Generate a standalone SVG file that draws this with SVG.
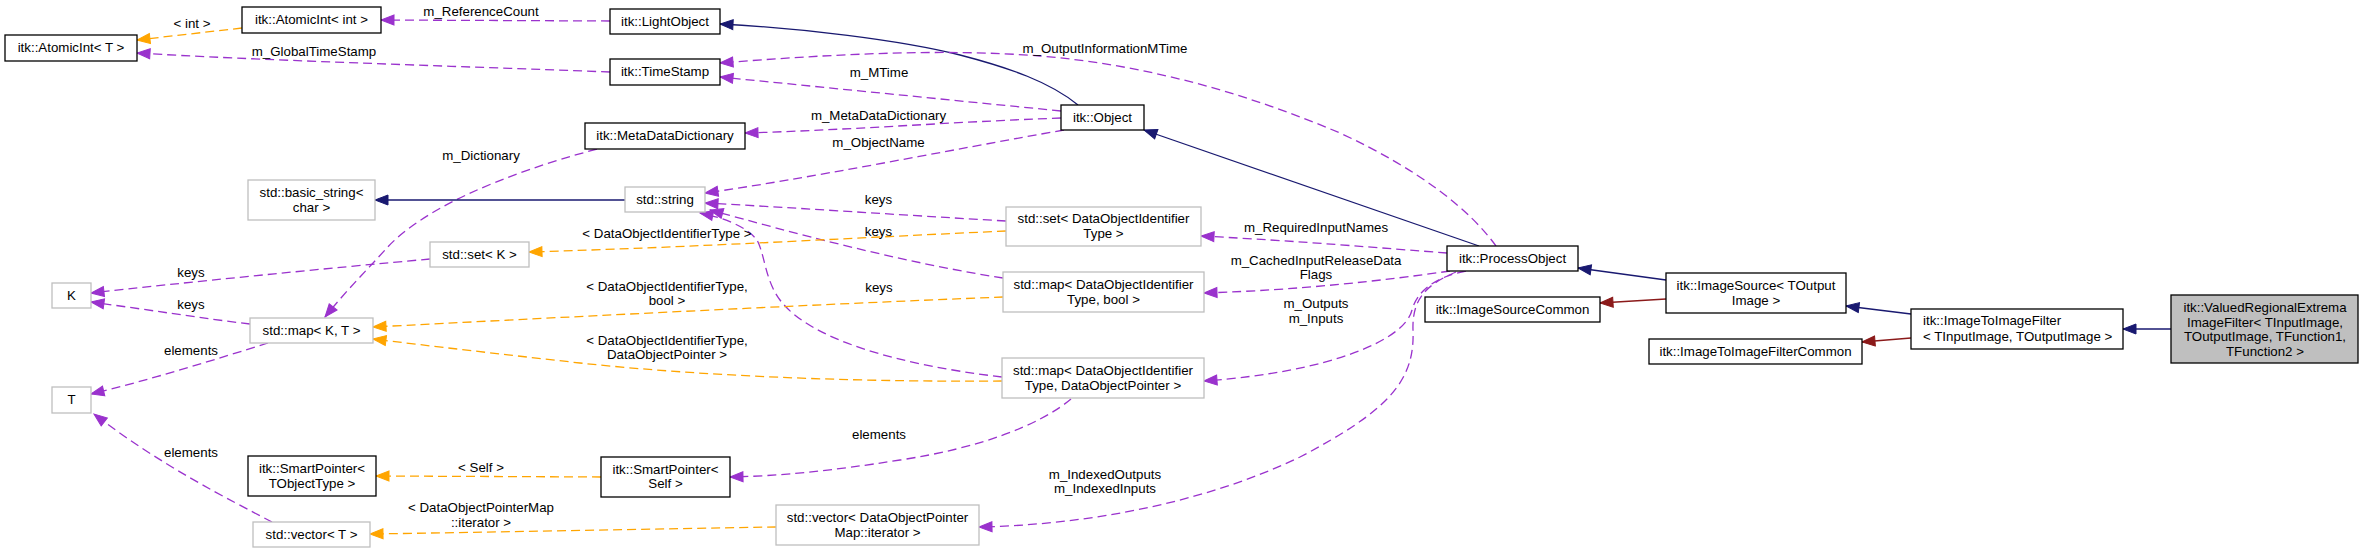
<svg xmlns="http://www.w3.org/2000/svg" width="2364" height="553" viewBox="0 0 2364 553">
<style>
text{font-family:"Liberation Sans",Arial,sans-serif;font-size:13.3px;fill:#000}
.c{text-anchor:middle}
.nb{fill:#fff;stroke:#000;stroke-width:1.3}
.ng{fill:#fff;stroke:#bfbfbf;stroke-width:1.3}
.ns{fill:#bfbfbf;stroke:#000;stroke-width:1.3}
.e{fill:none;stroke-width:1.3}
.p{stroke:#9a32cd;stroke-dasharray:9,5;marker-end:url(#mp)}
.o{stroke:#ffa500;stroke-dasharray:9,5;marker-end:url(#mo)}
.b{stroke:#191970;marker-end:url(#mb)}
.r{stroke:#8b1a1a;marker-end:url(#mr)}
</style>
<defs>
<marker id="mp" markerUnits="userSpaceOnUse" markerWidth="16" markerHeight="12" refX="13" refY="5.5" orient="auto" overflow="visible"><path d="M0,0.5 L13,5.5 L0,10.5 z" fill="#9a32cd" stroke="#9a32cd" stroke-width="1"/></marker>
<marker id="mo" markerUnits="userSpaceOnUse" markerWidth="16" markerHeight="12" refX="13" refY="5.5" orient="auto" overflow="visible"><path d="M0,0.5 L13,5.5 L0,10.5 z" fill="#ffa500" stroke="#ffa500" stroke-width="1"/></marker>
<marker id="mb" markerUnits="userSpaceOnUse" markerWidth="16" markerHeight="12" refX="13" refY="5.5" orient="auto" overflow="visible"><path d="M0,0.5 L13,5.5 L0,10.5 z" fill="#191970" stroke="#191970" stroke-width="1"/></marker>
<marker id="mr" markerUnits="userSpaceOnUse" markerWidth="16" markerHeight="12" refX="13" refY="5.5" orient="auto" overflow="visible"><path d="M0,0.5 L13,5.5 L0,10.5 z" fill="#8b1a1a" stroke="#8b1a1a" stroke-width="1"/></marker>
</defs>
<rect width="2364" height="553" fill="#fff"/>
<g id="connectors">
<path class="e b" d="M1078,105 C1050,82 1010,68 960,55 C900,40 800,28 720,24"/>
<path class="e p" d="M1061,111 L720,77"/>
<path class="e p" d="M610,72 C450,66 250,60 137,53"/>
<path class="e p" d="M610,21 L381,20"/>
<path class="e o" d="M242,28 L137,40"/>
<path class="e p" d="M1496,246 C1470,210 1420,170 1340,133 C1250,95 1150,65 1040,56 C940,48 820,55 720,63"/>
<path class="e p" d="M1061,118 C950,122 850,130 745,133"/>
<path class="e p" d="M1064,130 C950,150 800,180 705,193"/>
<path class="e p" d="M1006,221 C900,215 800,208 705,203"/>
<path class="e p" d="M1003,278 C900,262 790,232 710,210"/>
<path class="e p" d="M1002,377 C900,365 810,340 780,300 C765,280 765,255 757,240 C745,225 720,217 700,213"/>
<path class="e o" d="M1006,231 C850,238 700,247 529,252"/>
<path class="e p" d="M430,259 C330,268 180,283 91,293"/>
<path class="e p" d="M250,324 C200,318 150,310 91,302"/>
<path class="e p" d="M597,149 C500,175 420,210 385,250 C365,272 345,292 325,317"/>
<path class="e p" d="M268,343 C220,358 150,380 91,394"/>
<path class="e p" d="M272,522 C230,500 160,465 94,414"/>
<path class="e o" d="M1003,297 C800,305 550,318 373,327"/>
<path class="e o" d="M1002,381 C880,382 720,378 580,363 C500,354 430,346 373,339"/>
<path class="e o" d="M601,477 L376,476"/>
<path class="e p" d="M1071,399 C1040,425 980,448 900,460 C830,471 780,476 730,477"/>
<path class="e o" d="M776,527 C650,529 500,532 370,534"/>
<path class="e p" d="M1456,272 C1425,285 1412,300 1413,330 C1415,380 1390,410 1300,457 C1200,505 1080,525 979,527"/>
<path class="e p" d="M1466,271 C1440,276 1418,288 1412,310 C1405,340 1330,372 1204,381"/>
<path class="e p" d="M1450,271 C1380,281 1300,290 1204,293"/>
<path class="e p" d="M1447,253 C1380,248 1300,241 1201,236"/>
<path class="e b" d="M1479,246 L1144,130"/>
<path class="e b" d="M1666,280 L1578,268"/>
<path class="e r" d="M1666,299 L1600,303"/>
<path class="e b" d="M1911,314 L1846,306"/>
<path class="e r" d="M1911,338 L1862,342"/>
<path class="e b" d="M2171,329 L2123,329"/>
<path class="e b" d="M625,200 L375,200"/>
<text class="c" x="192" y="28">&lt; int &gt;</text>
<text class="c" x="481" y="16">m_ReferenceCount</text>
<text class="c" x="314" y="56">m_GlobalTimeStamp</text>
<text class="c" x="1105" y="52.5">m_OutputInformationMTime</text>
<text class="c" x="879" y="77">m_MTime</text>
<text class="c" x="878.5" y="119.5">m_MetaDataDictionary</text>
<text class="c" x="878.5" y="147">m_ObjectName</text>
<text class="c" x="481" y="159.5">m_Dictionary</text>
<text class="c" x="878.5" y="203.5">keys</text>
<text class="c" x="878.5" y="235.5">keys</text>
<text class="c" x="879" y="292">keys</text>
<text class="c" x="667" y="237.5">&lt; DataObjectIdentifierType &gt;</text>
<text class="c" x="191" y="277">keys</text>
<text class="c" x="191" y="309">keys</text>
<text class="c" x="191" y="355">elements</text>
<text class="c" x="191" y="457">elements</text>
<text class="c" x="667" y="290.5">&lt; DataObjectIdentifierType,</text>
<text class="c" x="667" y="305">bool &gt;</text>
<text class="c" x="667" y="344.5">&lt; DataObjectIdentifierType,</text>
<text class="c" x="667" y="359">DataObjectPointer &gt;</text>
<text class="c" x="879" y="439">elements</text>
<text class="c" x="481" y="472">&lt; Self &gt;</text>
<text class="c" x="481" y="512">&lt; DataObjectPointerMap</text>
<text class="c" x="481" y="527">::iterator &gt;</text>
<text class="c" x="1105" y="479">m_IndexedOutputs</text>
<text class="c" x="1105" y="493">m_IndexedInputs</text>
<text class="c" x="1316" y="232">m_RequiredInputNames</text>
<text class="c" x="1316" y="264.5">m_CachedInputReleaseData</text>
<text class="c" x="1316" y="279">Flags</text>
<text class="c" x="1316" y="308">m_Outputs</text>
<text class="c" x="1316" y="323">m_Inputs</text>
</g>
<g id="AtomicIntT"><rect class="nb" x="5" y="35" width="132" height="26"/><text class="c" x="71" y="52">itk::AtomicInt&lt; T &gt;</text></g>
<g id="AtomicIntInt"><rect class="nb" x="242" y="7" width="139" height="26"/><text class="c" x="311.5" y="24">itk::AtomicInt&lt; int &gt;</text></g>
<g id="LightObject"><rect class="nb" x="610" y="9" width="110" height="25"/><text class="c" x="665" y="26">itk::LightObject</text></g>
<g id="TimeStamp"><rect class="nb" x="610" y="59" width="110" height="26"/><text class="c" x="665" y="76">itk::TimeStamp</text></g>
<g id="MetaDataDictionary"><rect class="nb" x="585" y="123" width="160" height="26"/><text class="c" x="665" y="140">itk::MetaDataDictionary</text></g>
<g id="Object"><rect class="nb" x="1061" y="105" width="83" height="25"/><text class="c" x="1102.5" y="122">itk::Object</text></g>
<g id="BasicString"><rect class="ng" x="248" y="180" width="127" height="40"/><text class="c" x="311.5" y="196.5">std::basic_string&lt;</text><text class="c" x="311.5" y="211.5">char &gt;</text></g>
<g id="StdString"><rect class="ng" x="625" y="187" width="80" height="25"/><text class="c" x="665" y="204">std::string</text></g>
<g id="SetK"><rect class="ng" x="430" y="242" width="99" height="25"/><text class="c" x="479.5" y="258.5">std::set&lt; K &gt;</text></g>
<g id="SetDOI"><rect class="ng" x="1006" y="207" width="195" height="39"/><text class="c" x="1103.5" y="223">std::set&lt; DataObjectIdentifier</text><text class="c" x="1103.5" y="238">Type &gt;</text></g>
<g id="MapDOIBool"><rect class="ng" x="1003" y="272" width="201" height="40"/><text class="c" x="1103.5" y="288.5">std::map&lt; DataObjectIdentifier</text><text class="c" x="1103.5" y="303.5">Type, bool &gt;</text></g>
<g id="MapDOIDOP"><rect class="ng" x="1002" y="358" width="202" height="40"/><text class="c" x="1103" y="374.5">std::map&lt; DataObjectIdentifier</text><text class="c" x="1103" y="389.5">Type, DataObjectPointer &gt;</text></g>
<g id="SmartPointerSelf"><rect class="nb" x="601" y="457" width="129" height="40"/><text class="c" x="665.5" y="473.5">itk::SmartPointer&lt;</text><text class="c" x="665.5" y="488">Self &gt;</text></g>
<g id="VectorDOPMap"><rect class="ng" x="776" y="505" width="203" height="40"/><text class="c" x="877.5" y="521.5">std::vector&lt; DataObjectPointer</text><text class="c" x="877.5" y="536.5">Map::iterator &gt;</text></g>
<g id="K"><rect class="ng" x="52" y="283" width="39" height="25"/><text class="c" x="71.5" y="299.5">K</text></g>
<g id="MapKT"><rect class="ng" x="250" y="318" width="123" height="25"/><text class="c" x="311.5" y="335">std::map&lt; K, T &gt;</text></g>
<g id="T"><rect class="ng" x="52" y="387" width="39" height="26"/><text class="c" x="71.5" y="403.5">T</text></g>
<g id="SmartPointerTObjectType"><rect class="nb" x="248" y="456" width="128" height="40"/><text class="c" x="312" y="472.5">itk::SmartPointer&lt;</text><text class="c" x="312" y="487.5">TObjectType &gt;</text></g>
<g id="VectorT"><rect class="ng" x="253" y="522" width="117" height="25"/><text class="c" x="311.5" y="539">std::vector&lt; T &gt;</text></g>
<g id="ProcessObject"><rect class="nb" x="1447" y="246" width="131" height="25"/><text class="c" x="1512.5" y="262.5">itk::ProcessObject</text></g>
<g id="ImageSourceCommon"><rect class="nb" x="1425" y="297" width="175" height="25"/><text class="c" x="1512.5" y="314">itk::ImageSourceCommon</text></g>
<g id="ImageSource"><rect class="nb" x="1666" y="273" width="180" height="40"/><text class="c" x="1756" y="290">itk::ImageSource&lt; TOutput</text><text class="c" x="1756" y="305">Image &gt;</text></g>
<g id="ImageToImageFilterCommon"><rect class="nb" x="1649" y="339" width="213" height="25"/><text class="c" x="1755.5" y="356">itk::ImageToImageFilterCommon</text></g>
<g id="ImageToImageFilter"><rect class="nb" x="1911" y="309" width="212" height="40"/><text x="1923" y="325">itk::ImageToImageFilter</text><text x="1923" y="341">&lt; TInputImage, TOutputImage &gt;</text></g>
<g id="ValuedRegionalExtremaImageFilter"><rect class="ns" x="2171" y="295" width="187" height="68"/><text class="c" x="2265" y="312">itk::ValuedRegionalExtrema</text><text class="c" x="2265" y="326.5">ImageFilter&lt; TInputImage,</text><text class="c" x="2265" y="341">TOutputImage, TFunction1,</text><text class="c" x="2265" y="355.5">TFunction2 &gt;</text></g>
</svg>
